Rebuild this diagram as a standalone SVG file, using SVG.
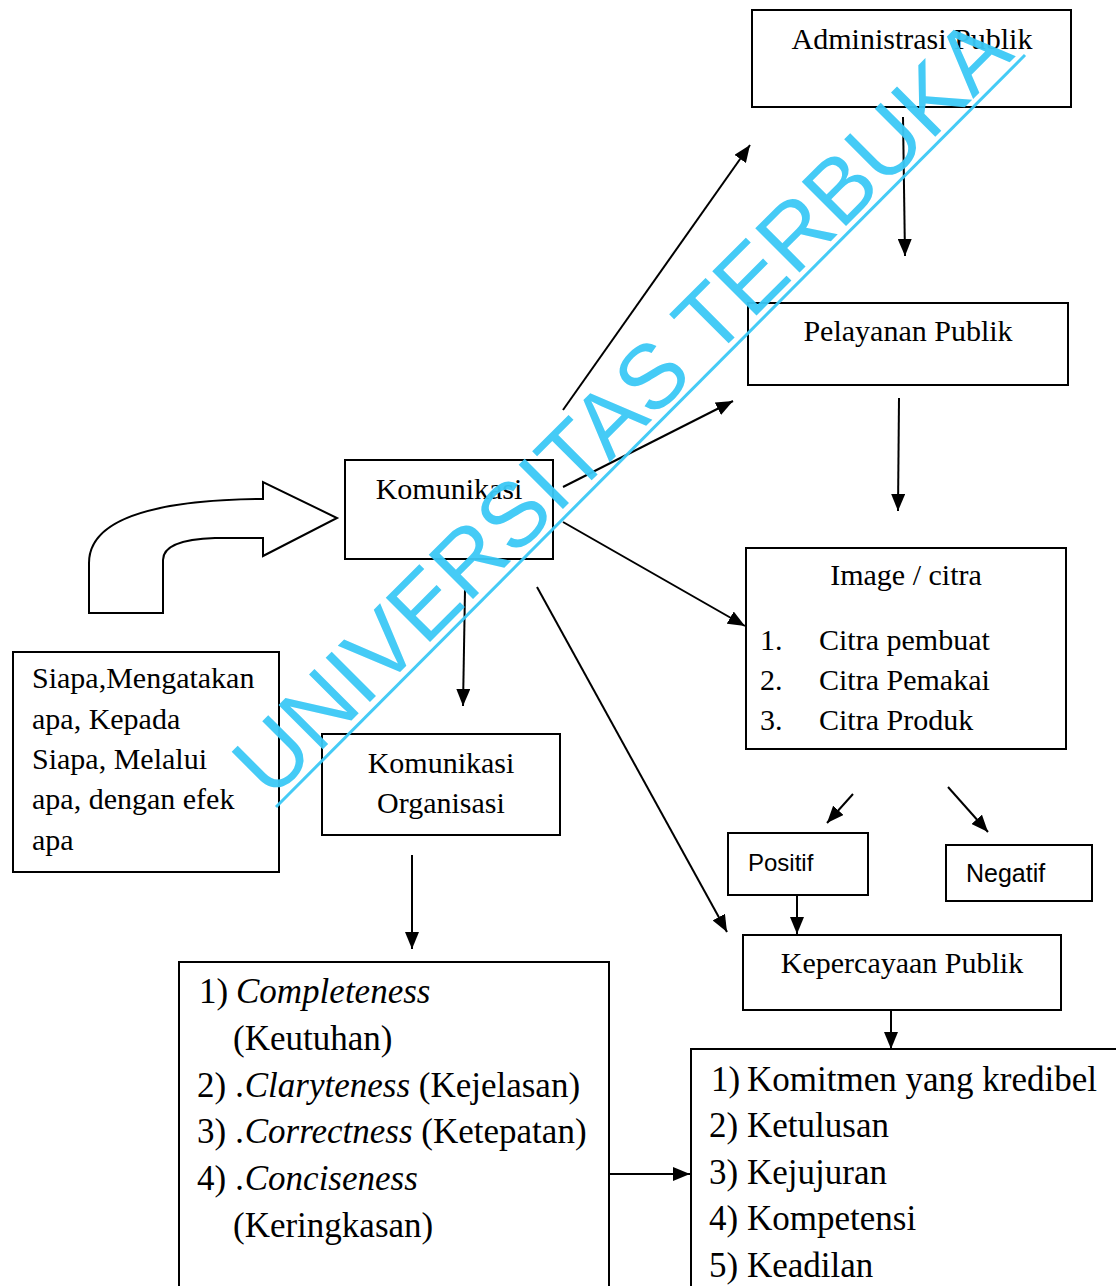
<svg xmlns="http://www.w3.org/2000/svg" width="1116" height="1286" viewBox="0 0 1116 1286">
<style>
.box{fill:#fff;stroke:#000;stroke-width:2}
.serif{font-family:"Liberation Serif","Times New Roman",serif;fill:#000}
.sans{font-family:"Liberation Sans",Arial,sans-serif;fill:#000}
.it{font-style:italic}
.edge{stroke:#000;stroke-width:2;fill:none;marker-end:url(#ah)}
.wm{font-family:"Liberation Sans",Arial,sans-serif;fill:#3cc9f6}
</style>
<defs>
<marker id="ah" markerUnits="userSpaceOnUse" markerWidth="17" markerHeight="14" refX="17" refY="7" orient="auto" viewBox="0 0 17 14"><path d="M0,0 L17,7 L0,14 Z" fill="#000"/></marker>
</defs>
<rect x="0" y="0" width="1116" height="1286" fill="#fff"/>

<g id="curved-arrow">
<path d="M89,613 L89,563 C89,520 150,500 263,499 L263,482 L337,518 L263,556 L263,538 L215,538 C185,539 163,545 163,560 L163,613 Z" fill="#fff" stroke="#000" stroke-width="2" stroke-linejoin="miter"/>
</g>

<g id="connectors">
<line class="edge" x1="563" y1="410" x2="750" y2="145"/>
<line class="edge" x1="563" y1="487" x2="733" y2="401"/>
<line class="edge" x1="563" y1="522" x2="745" y2="626"/>
<line class="edge" x1="537" y1="587" x2="727" y2="932"/>
<line class="edge" x1="465" y1="590" x2="463" y2="706"/>
<line class="edge" x1="903" y1="117" x2="905" y2="256"/>
<line class="edge" x1="899" y1="398" x2="898" y2="511"/>
<line class="edge" x1="853" y1="794" x2="827" y2="823"/>
<line class="edge" x1="948" y1="787" x2="988" y2="832"/>
<line class="edge" x1="797" y1="895" x2="797" y2="934"/>
<line class="edge" x1="891" y1="1010" x2="891" y2="1049"/>
<line class="edge" x1="412" y1="855" x2="412" y2="949"/>
<line class="edge" x1="609" y1="1174" x2="690" y2="1174"/>
</g>

<g id="administrasi-publik">
<rect class="box" x="752" y="10" width="319" height="97"/>
<text class="serif" x="912" y="49" font-size="30" text-anchor="middle">Administrasi Publik</text>
</g>

<g id="pelayanan-publik">
<rect class="box" x="748" y="303" width="320" height="82"/>
<text class="serif" x="908" y="341" font-size="30" text-anchor="middle">Pelayanan Publik</text>
</g>

<g id="komunikasi">
<rect class="box" x="345" y="460" width="208" height="99"/>
<text class="serif" x="449" y="499" font-size="30" text-anchor="middle">Komunikasi</text>
</g>

<g id="image-citra">
<rect class="box" x="746" y="548" width="320" height="201"/>
<text class="serif" x="906" y="585" font-size="30" text-anchor="middle">Image / citra</text>
<text class="serif" font-size="30"><tspan x="760" y="650">1.</tspan><tspan x="819" y="650">Citra pembuat</tspan><tspan x="760" y="690">2.</tspan><tspan x="819" y="690">Citra Pemakai</tspan><tspan x="760" y="730">3.</tspan><tspan x="819" y="730">Citra Produk</tspan></text>
</g>

<g id="siapa">
<rect class="box" x="13" y="652" width="266" height="220"/>
<text class="serif" font-size="30"><tspan x="32" y="688">Siapa,Mengatakan</tspan><tspan x="32" y="729">apa, Kepada</tspan><tspan x="32" y="769">Siapa, Melalui</tspan><tspan x="32" y="809">apa, dengan efek</tspan><tspan x="32" y="850">apa</tspan></text>
</g>

<g id="komunikasi-organisasi">
<rect class="box" x="322" y="734" width="238" height="101"/>
<text class="serif" font-size="30" text-anchor="middle"><tspan x="441" y="773">Komunikasi</tspan><tspan x="441" y="813">Organisasi</tspan></text>
</g>

<g id="positif">
<rect class="box" x="728" y="833" width="140" height="62"/>
<text class="sans" x="748" y="871" font-size="24">Positif</text>
</g>

<g id="negatif">
<rect class="box" x="946" y="845" width="146" height="56"/>
<text class="sans" x="966" y="882" font-size="25">Negatif</text>
</g>

<g id="kepercayaan-publik">
<rect class="box" x="743" y="935" width="318" height="75"/>
<text class="serif" x="902" y="973" font-size="30" text-anchor="middle">Kepercayaan Publik</text>
</g>

<g id="kriteria-komunikasi">
<rect class="box" x="179" y="962" width="430" height="340"/>
<text class="serif" font-size="35">
<tspan x="199" y="1003">1)</tspan><tspan x="236" y="1003" class="it">Completeness</tspan>
<tspan x="233" y="1050">(Keutuhan)</tspan>
<tspan x="197" y="1097">2)</tspan><tspan x="236" y="1097" class="it">.Claryteness</tspan><tspan> (Kejelasan)</tspan>
<tspan x="197" y="1143">3)</tspan><tspan x="236" y="1143" class="it">.Correctness</tspan><tspan> (Ketepatan)</tspan>
<tspan x="197" y="1190">4)</tspan><tspan x="236" y="1190" class="it">.Conciseness</tspan>
<tspan x="233" y="1237">(Keringkasan)</tspan>
</text>
</g>

<g id="kriteria-kepercayaan">
<rect class="box" x="691" y="1049" width="440" height="260"/>
<text class="serif" font-size="35">
<tspan x="711" y="1091">1)</tspan><tspan x="747" y="1091">Komitmen yang kredibel</tspan>
<tspan x="709" y="1137">2)</tspan><tspan x="747" y="1137">Ketulusan</tspan>
<tspan x="709" y="1184">3)</tspan><tspan x="747" y="1184">Kejujuran</tspan>
<tspan x="709" y="1230">4)</tspan><tspan x="747" y="1230">Kompetensi</tspan>
<tspan x="709" y="1277">5)</tspan><tspan x="747" y="1277">Keadilan</tspan>
</text>
</g>

<g id="watermark" opacity="0.95">
<text class="wm" transform="translate(271,801) rotate(-45)" font-size="91">UNIVERSITAS TERBUKA</text>
<line x1="276" y1="807" x2="1025" y2="55" stroke="#3cc9f6" stroke-width="3"/>
</g>
</svg>
